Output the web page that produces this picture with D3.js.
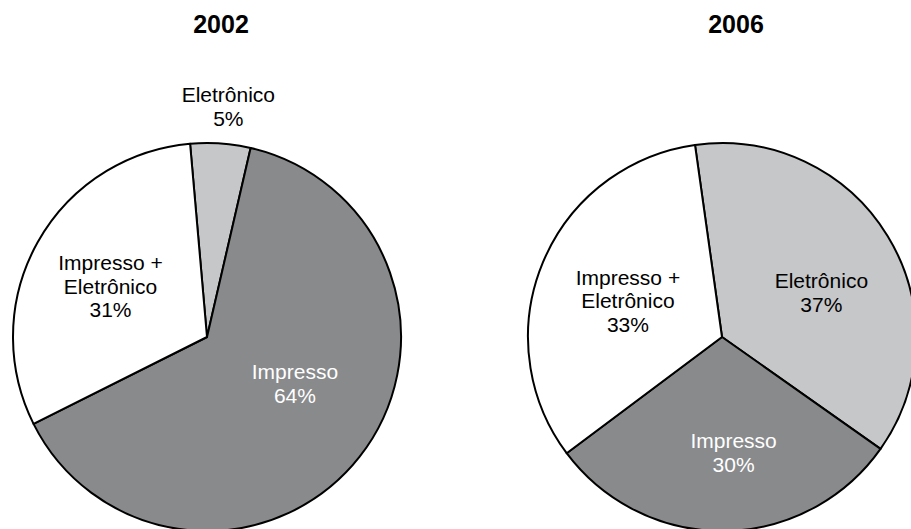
<!DOCTYPE html>
<html>
<head>
<meta charset="utf-8">
<script src="https://cdn.jsdelivr.net/npm/d3@7"></script>
<style>
  html, body { margin: 0; padding: 0; background: #ffffff; }
  svg { display: block; }
</style>
</head>
<body>
<svg id="chart" width="911" height="529"></svg>
<script>
// ---- data ----
const years = ["2002", "2006"];
const categories = ["Eletrônico", "Impresso", "Impresso + Eletrônico"];
const values2002 = [5, 64, 31];
const values2006 = [37, 30, 33];
const labelLines = [["Eletrônico"], ["Impresso"], ["Impresso +", "Eletrônico"]];

// ---- layout / style ----
const W = 911, H = 529;
const radius = 194;
const pieCenters = [[207, 337], [722, 337]];
const startAngles = [-5, -8]; // degrees
// label nudges (px) relative to arc centroid, per pie, per slice
const labelNudges = [
  [[5, 3], [1, -22], [0, 3]],
  [[5, 13], [10, 5], [8, 6]]
];
const fills = ["#c6c7c8", "#898a8c", "#ffffff"];
const textFills = ["#000000", "#ffffff", "#000000"];
const fontFamily = "'Liberation Sans', Arial, Helvetica, sans-serif";
const fontSize = 21;
const lineH = 23.5;

const svg = d3.select("#chart");
const color = d3.scaleOrdinal().domain(categories).range(fills);
const textColor = d3.scaleOrdinal().domain(categories).range(textFills);
const linesOf = d3.scaleOrdinal().domain(categories).range(labelLines);

const allValues = [values2002, values2006];

years.forEach((year, i) => {
  const [cx, cy] = pieCenters[i];
  const data = categories.map((c, k) => ({ cat: c, value: allValues[i][k], k }));
  const s = startAngles[i] * Math.PI / 180;
  const pie = d3.pie().sort(null).value(d => d.value)
    .startAngle(s).endAngle(s + 2 * Math.PI);
  const arcs = pie(data);
  const arc = d3.arc().innerRadius(0).outerRadius(radius);
  const inner = d3.arc().innerRadius(radius * 0.57).outerRadius(radius * 0.57);
  const outer = d3.arc().innerRadius(radius + 40).outerRadius(radius + 40);

  const g = svg.append("g").attr("transform", `translate(${cx},${cy})`);

  g.selectAll("path.slice").data(arcs).join("path")
    .attr("class", "slice")
    .attr("d", arc)
    .attr("fill", d => color(d.data.cat))
    .attr("stroke", "#000")
    .attr("stroke-width", 2)
    .attr("stroke-linejoin", "round");

  g.selectAll("text.lbl").data(arcs).join("text")
    .attr("class", "lbl")
    .attr("text-anchor", "middle")
    .attr("font-family", fontFamily)
    .attr("font-size", fontSize)
    .attr("fill", d => d.data.value < 10 ? "#000" : textColor(d.data.cat))
    .each(function(d) {
      const small = d.data.value < 10;
      const [x0, y] = (small ? outer : inner).centroid(d);
      const [dx, dy] = labelNudges[i][d.data.k];
      const lines = linesOf(d.data.cat).concat([d.data.value + "%"]);
      const n = lines.length;
      const y0 = y + dy - (n - 1) * lineH / 2 + fontSize * 0.36;
      d3.select(this).selectAll("tspan").data(lines).join("tspan")
        .attr("x", x0 + dx)
        .attr("y", (t, j) => y0 + j * lineH)
        .text(t => t);
    });

  svg.append("text")
    .attr("x", cx + 14)
    .attr("y", 33)
    .attr("text-anchor", "middle")
    .attr("font-family", fontFamily)
    .attr("font-weight", "bold")
    .attr("font-size", 25)
    .attr("fill", "#000")
    .text(year);
});
</script>
</body>
</html>
